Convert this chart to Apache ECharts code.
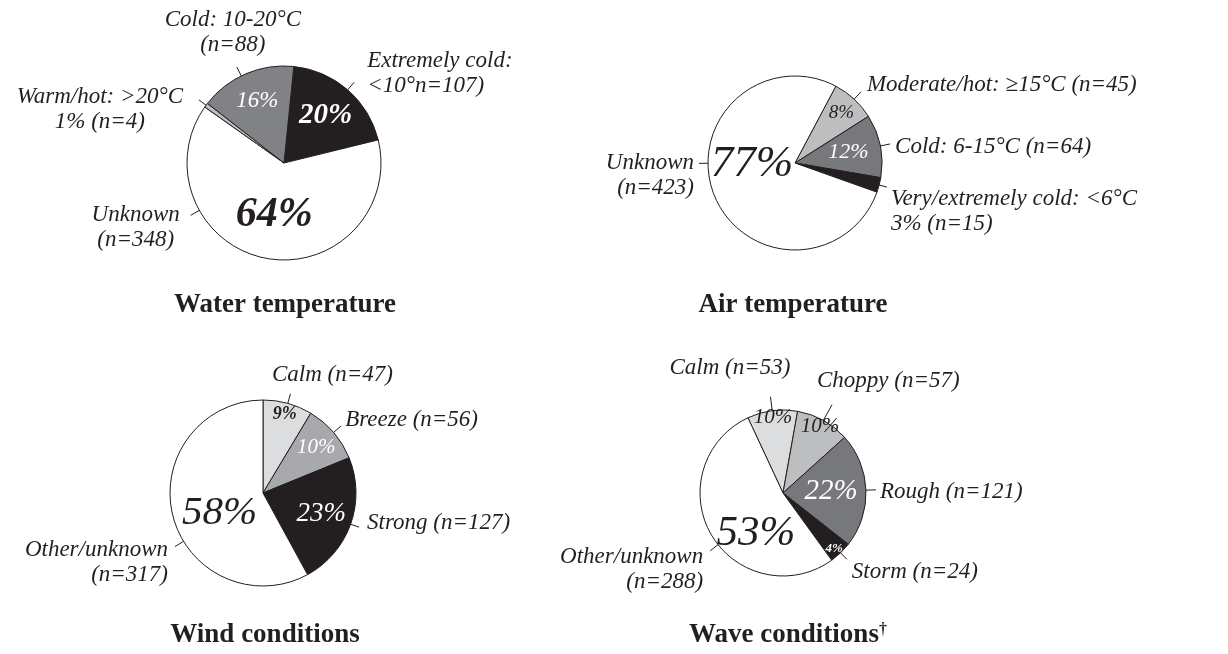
<!DOCTYPE html>
<html><head><meta charset="utf-8">
<script src="https://cdn.jsdelivr.net/npm/echarts@6/dist/echarts.min.js"></script>
<style>html,body{margin:0;padding:0;background:#fff}#c{width:1228px;height:654px}</style>
</head><body><div id="c"></div>
<script>
// ---------- DATA ----------
const waterNames  = ['Extremely cold', 'Unknown', 'Warm/hot', 'Cold'];
const waterValues = [107, 348, 4, 88];
const waterPct    = ['20%', '64%', '', '16%'];
const waterLabels = ['Extremely cold:\n<10°n=107)', 'Unknown\n(n=348)', 'Warm/hot: >20°C\n1% (n=4)', 'Cold: 10-20°C\n(n=88)'];

const airNames  = ['Moderate/hot', 'Cold', 'Very/extremely cold', 'Unknown'];
const airValues = [45, 64, 15, 423];
const airPct    = ['8%', '12%', '', '77%'];
const airLabels = ['Moderate/hot: ≥15°C (n=45)', 'Cold: 6-15°C (n=64)', 'Very/extremely cold: <6°C\n3% (n=15)', 'Unknown\n(n=423)'];

const windNames  = ['Calm', 'Breeze', 'Strong', 'Other/unknown'];
const windValues = [47, 56, 127, 317];
const windPct    = ['9%', '10%', '23%', '58%'];
const windLabels = ['Calm (n=47)', 'Breeze (n=56)', 'Strong (n=127)', 'Other/unknown\n(n=317)'];

const waveNames  = ['Calm', 'Choppy', 'Rough', 'Storm', 'Other/unknown'];
const waveValues = [53, 57, 121, 24, 288];
const wavePct    = ['10%', '10%', '22%', '4%', '53%'];
const waveLabels = ['Calm (n=53)', 'Choppy (n=57)', 'Rough (n=121)', 'Storm (n=24)', 'Other/unknown\n(n=288)'];

const titles = ['Water temperature', 'Air temperature', 'Wind conditions', 'Wave conditions{d|†}'];

// ---------- LAYOUT / STYLE ----------
const INK = '#231f20';
const FONT = '"Liberation Serif", "Times New Roman", serif';
const layouts = [
  { names: waterNames, values: waterValues, pct: waterPct, labels: waterLabels,
    c: [284, 163], r: 97, start: 84.2, title: [285, 305],
    colors: [INK, '#ffffff', '#bcbec0', '#808285'],
    inner: [{s:29,w:'bold',c:'#fff',f:1.23},{s:42,w:'bold',c:INK,f:1.03},null,{s:23,c:'#fff',f:1.32}],
    outer: [{da:0,len:10,align:'left',va:'middle',dx:13,dy:-9},
            {da:50,len:10,align:'center',va:'middle',dx:-55,dy:12},
            {da:0,len:9,align:'center',va:'middle',dx:-99,dy:10},
            {da:-3,len:10,align:'center',va:'bottom',dx:-4,dy:-10}] },
  { names: airNames, values: airValues, pct: airPct, labels: airLabels,
    c: [795, 163], r: 87, start: 62, title: [793, 305],
    colors: ['#bcbec0', '#77787b', INK, '#ffffff'],
    inner: [{s:19,c:INK,f:1.47},{s:22,c:'#fff',f:1.17},null,{s:45,c:INK,f:0.92,dx:-3,dy:-14}],
    outer: [{da:0,len:10,align:'left',va:'middle',dx:6,dy:-7},
            {da:0,len:10,align:'left',va:'middle',dx:5,dy:3},
            {da:0,len:8,align:'left',va:'top',dx:4,dy:-1},
            {da:21,len:9,align:'right',va:'top',dx:-5,dy:-12.5}] },
  { names: windNames, values: windValues, pct: windPct, labels: windLabels,
    c: [263, 493], r: 93, start: 90, title: [265, 635],
    colors: ['#dcdddf', '#a7a9ac', INK, '#ffffff'],
    inner: [{s:18,w:'bold',c:INK,f:1.64},{s:21,c:'#fff',f:1.42},{s:27,c:'#fff',f:1.25},{s:41,c:INK,f:0.97,dx:3,dy:8}],
    outer: [{da:0,len:10,align:'left',va:'bottom',dx:-18.5,dy:-6},
            {da:0,len:10,align:'left',va:'middle',dx:4,dy:-6},
            {da:0,len:9,align:'left',va:'middle',dx:8,dy:-4},
            {da:-17,len:10,align:'right',va:'top',dx:-7,dy:-9}] },
  { names: waveNames, values: waveValues, pct: wavePct, labels: waveLabels,
    c: [783, 493], r: 83, start: 115, title: [788, 635],
    colors: ['#dcdddf', '#bcbec0', '#77787b', INK, '#ffffff'],
    inner: [{s:21,c:INK,f:1.72},{s:21,c:INK,f:1.71},{s:29,c:'#fff',f:1.08},{s:13,w:'bold',c:'#fff',f:1.72,dx:-2},{s:43,c:INK,f:1.1,dx:15,dy:16}],
    outer: [{da:0,len:14,align:'right',va:'bottom',dx:20,dy:-16},
            {da:0,len:18,align:'left',va:'bottom',dx:-15,dy:-11},
            {da:0,len:10,align:'left',va:'middle',dx:4,dy:2},
            {da:0,len:9,align:'left',va:'middle',dx:5,dy:13},
            {da:-8,len:10,align:'right',va:'top',dx:-7,dy:-6}] }
];

const series = [];
const graphic = [];
layouts.forEach(function (L) {
  const cx = L.c[0], cy = L.c[1], r = L.r;
  // visible slices + inner percentage labels
  series.push({
    type: 'pie', center: [cx, cy], radius: r, startAngle: L.start, clockwise: true,
    avoidLabelOverlap: false, silent: true, animation: false,
    label: { position: 'inside', fontFamily: FONT, fontStyle: 'italic', textBorderWidth: 0, textShadowBlur: 0 },
    labelLine: { show: false },
    data: L.values.map(function (v, i) {
      const s = L.inner[i];
      return {
        name: L.names[i], value: v,
        itemStyle: { color: L.colors[i], borderColor: INK, borderWidth: 1 },
        label: s ? { show: true, formatter: L.pct[i], fontSize: s.s, fontWeight: s.w || 'normal', color: s.c } : { show: false }
      };
    }),
    labelLayout: function (p) {
      const s = L.inner[p.dataIndex];
      if (!s) return {};
      const lr = p.labelRect;
      const lx = lr.x + lr.width / 2, ly = lr.y + lr.height / 2;
      return { x: cx + (lx - cx) * s.f + (s.dx || 0), y: cy + (ly - cy) * s.f + (s.dy || 0), align: 'center', verticalAlign: 'middle' };
    }
  });
  // transparent overlay carrying the outer category labels
  series.push({
    type: 'pie', center: [cx, cy], radius: r, startAngle: L.start, clockwise: true,
    avoidLabelOverlap: false, silent: true, animation: false,
    itemStyle: { color: 'rgba(0,0,0,0)', borderWidth: 0 },
    label: { show: true, position: 'outside', fontFamily: FONT, fontStyle: 'italic', fontSize: 23, lineHeight: 25, color: INK },
    labelLine: { show: true, length: 10, length2: 0, lineStyle: { color: INK, width: 1 } },
    data: L.values.map(function (v, i) {
      return { name: L.names[i], value: v, label: { formatter: L.labels[i] } };
    }),
    labelLayout: function (p) {
      const s = L.outer[p.dataIndex];
      const pts = p.labelLinePoints;
      let ang;
      if (pts && pts.length) ang = Math.atan2(pts[0][0] - cx, -(pts[0][1] - cy));
      else { const lr = p.labelRect; ang = Math.atan2(lr.x + lr.width / 2 - cx, -(lr.y + lr.height / 2 - cy)); }
      ang += (s.da || 0) * Math.PI / 180;
      const ux = Math.sin(ang), uy = -Math.cos(ang);
      const p0 = [cx + r * ux, cy + r * uy];
      const p1 = [cx + (r + s.len) * ux, cy + (r + s.len) * uy];
      return { x: p1[0] + s.dx, y: p1[1] + s.dy, align: s.align, verticalAlign: s.va, labelLinePoints: [p0, p1] };
    }
  });
});
layouts.forEach(function (L, i) {
  graphic.push({ type: 'text', x: L.title[0], y: L.title[1], silent: true,
    style: { text: titles[i], fontFamily: FONT, fontWeight: 'bold', fontSize: 27, fill: INK, align: 'center', verticalAlign: 'middle',
      rich: { d: { fontFamily: FONT, fontWeight: 'bold', fontSize: 16, verticalAlign: 'top', fill: INK } } } });
});

const chart = echarts.init(document.getElementById('c'), null, { renderer: 'canvas' });
chart.setOption({ backgroundColor: '#ffffff', animation: false, series: series, graphic: graphic });
</script></body></html>
